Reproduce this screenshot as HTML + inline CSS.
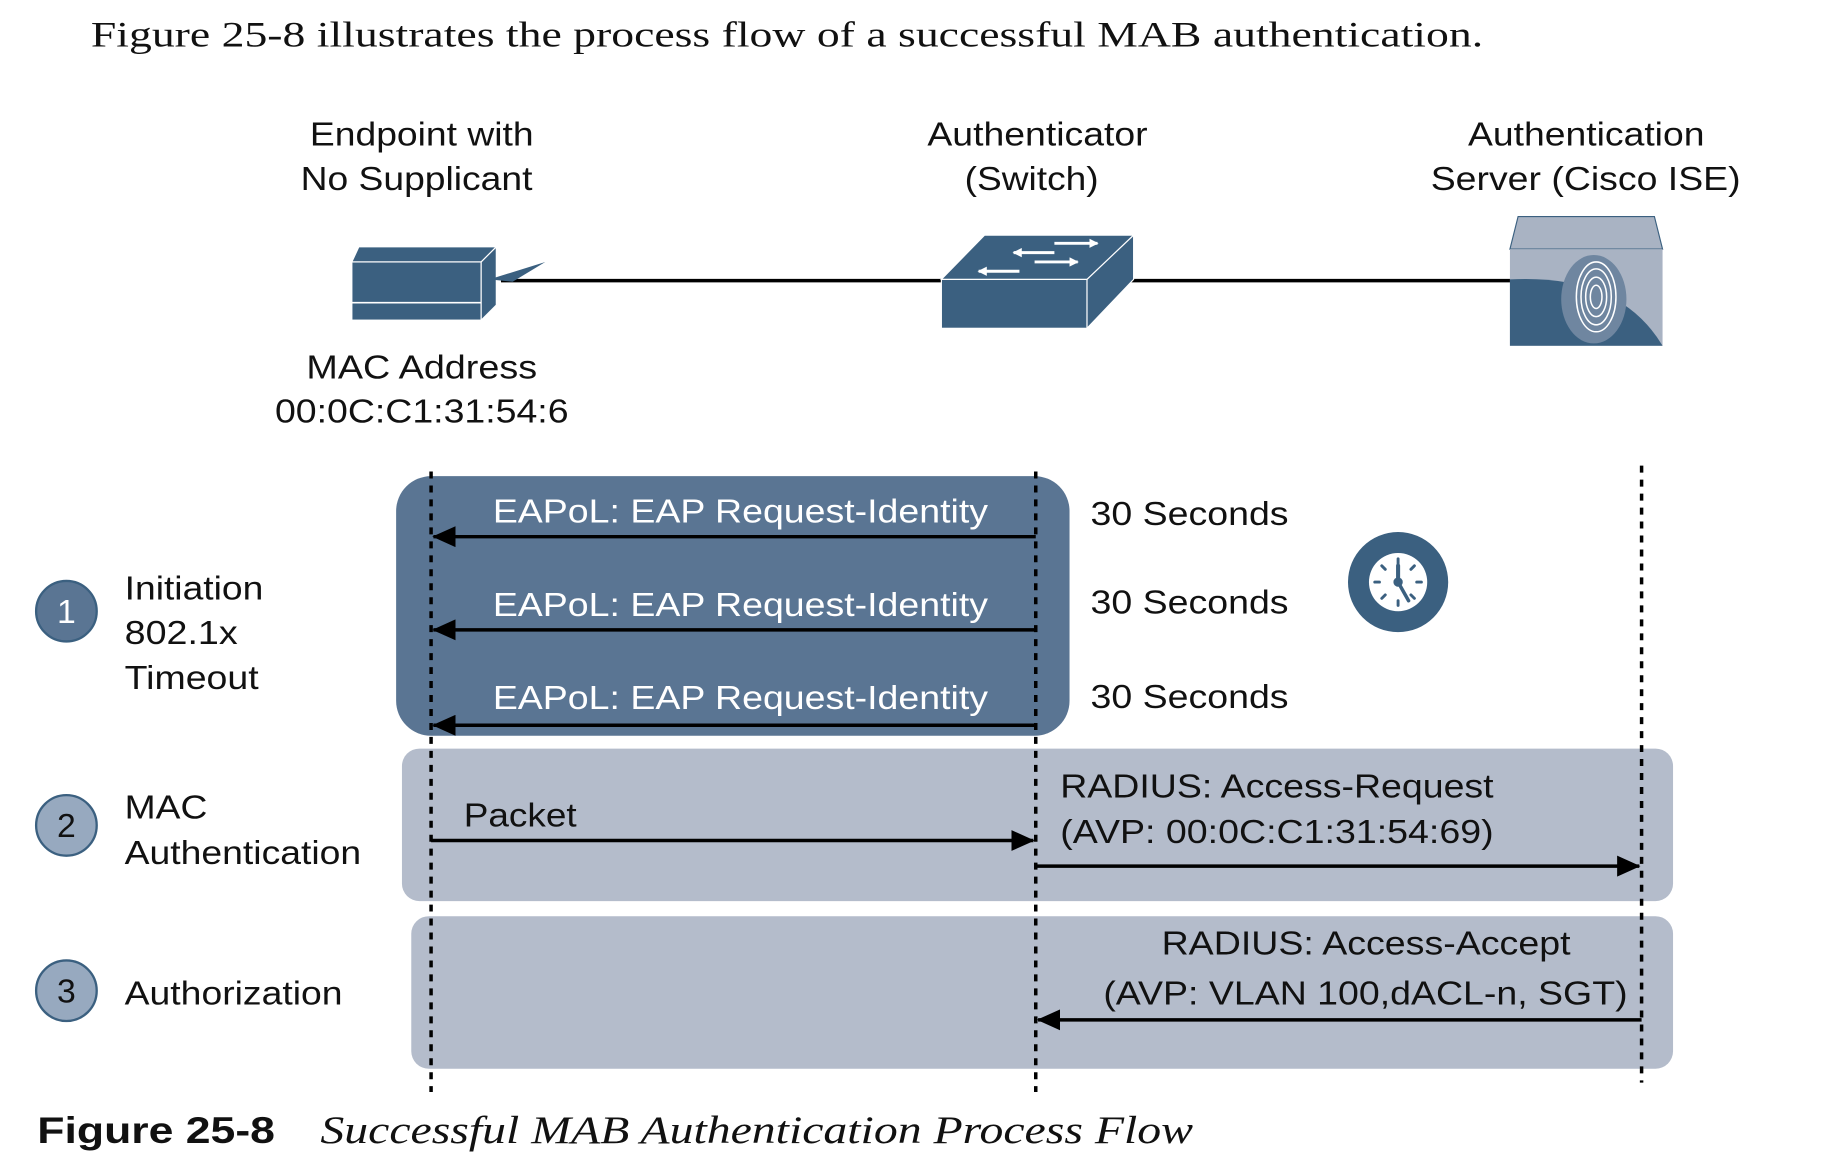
<!DOCTYPE html>
<html><head><meta charset="utf-8"><style>
html,body{margin:0;padding:0;background:#fff;}
svg{display:block;}
.s{font-family:"Liberation Sans",sans-serif;font-size:29px;fill:#111;}
.w{font-family:"Liberation Sans",sans-serif;font-size:29px;fill:#fff;}
</style></head><body>
<svg width="1828" height="1170" viewBox="0 0 1569 1005" preserveAspectRatio="none" xmlns="http://www.w3.org/2000/svg">
<defs>
<marker id="b" markerWidth="20" markerHeight="18" refX="19" refY="9" orient="auto" markerUnits="userSpaceOnUse"><path d="M0,0 L20,9 L0,18 z" fill="#000"/></marker>
<marker id="w" markerWidth="8" markerHeight="8" refX="7" refY="4" orient="auto" markerUnits="userSpaceOnUse"><path d="M0,0 L8,4 L0,8 z" fill="#fff"/></marker>
</defs>
<text x="78" y="40" textLength="1195" lengthAdjust="spacingAndGlyphs" style="font-family:'Liberation Serif',serif;font-size:31px;fill:#111">Figure 25-8 illustrates the process flow of a successful MAB authentication.</text>

<text class="s" x="266" y="125" textLength="192" lengthAdjust="spacingAndGlyphs">Endpoint with</text>
<text class="s" x="258" y="163" textLength="199" lengthAdjust="spacingAndGlyphs">No Supplicant</text>
<text class="s" x="796" y="125" textLength="189" lengthAdjust="spacingAndGlyphs">Authenticator</text>
<text class="s" x="828" y="163" textLength="115" lengthAdjust="spacingAndGlyphs">(Switch)</text>
<text class="s" x="1260" y="125" textLength="203" lengthAdjust="spacingAndGlyphs">Authentication</text>
<text class="s" x="1228" y="163" textLength="266" lengthAdjust="spacingAndGlyphs">Server (Cisco ISE)</text>

<line x1="430" y1="241" x2="1300" y2="241" stroke="#000" stroke-width="3"/>
<!-- endpoint -->
<polygon points="302,225 308,212 426,212 413,225" fill="#3b6080" stroke="#fff" stroke-width="1"/>
<rect x="302" y="225" width="111" height="50" fill="#3b6080" stroke="#fff" stroke-width="1"/>
<line x1="302" y1="260" x2="413" y2="260" stroke="#fff" stroke-width="1.5"/>
<polygon points="413,225 426,212 426,262 413,275" fill="#3b6080" stroke="#fff" stroke-width="1"/>
<polygon points="420,240 468,225 440,242" fill="#3b6080"/>
<!-- switch -->
<polygon points="808,240 845,202 973,202 933,240" fill="#3b6080" stroke="#fff" stroke-width="1"/>
<rect x="808" y="240" width="125" height="42" fill="#3b6080" stroke="#fff" stroke-width="1"/>
<polygon points="933,240 973,202 973,240 933,282" fill="#3b6080" stroke="#fff" stroke-width="1"/>
<g stroke="#fff" stroke-width="2.5">
<line x1="905" y1="209" x2="942" y2="209" marker-end="url(#w)"/><line x1="905" y1="217" x2="870" y2="217" marker-end="url(#w)"/>
<line x1="888" y1="225" x2="925" y2="225" marker-end="url(#w)"/><line x1="875" y1="233" x2="840" y2="233" marker-end="url(#w)"/>
</g>
<!-- server -->
<polygon points="1296,214 1303,186 1420,186 1427,214" fill="#a9b3c3" stroke="#3b6080" stroke-width="1"/>
<rect x="1296" y="214" width="131" height="83" fill="#a9b3c3"/>
<path d="M1296,240 Q1390,235 1427,297 L1296,297 Z" fill="#3b6080"/>
<ellipse cx="1368" cy="257" rx="28" ry="38" fill="#6f86a0"/>
<g stroke="#fff" stroke-width="1.3" fill="none">
<ellipse cx="1370" cy="255" rx="5" ry="10"/><ellipse cx="1370" cy="255" rx="9" ry="17"/><ellipse cx="1370" cy="255" rx="13" ry="24"/><ellipse cx="1370" cy="255" rx="17" ry="30"/>
</g>

<text class="s" x="263" y="325" textLength="198" lengthAdjust="spacingAndGlyphs">MAC Address</text>
<text class="s" x="236" y="363" textLength="252" lengthAdjust="spacingAndGlyphs">00:0C:C1:31:54:6</text>

<!-- boxes -->
<rect x="340" y="409" width="578" height="223" rx="30" fill="#5a7593"/>
<rect x="345" y="643" width="1091" height="131" rx="15" fill="#b4bccb"/>
<rect x="353" y="787" width="1083" height="131" rx="15" fill="#b4bccb"/>

<g stroke="#000" stroke-width="3" stroke-dasharray="6,6">
<line x1="370" y1="405" x2="370" y2="938"/>
<line x1="889" y1="405" x2="889" y2="938"/>
<line x1="1409" y1="400" x2="1409" y2="930"/>
</g>

<g stroke="#000" stroke-width="3">
<line x1="889" y1="461" x2="372" y2="461" marker-end="url(#b)"/>
<line x1="889" y1="541" x2="372" y2="541" marker-end="url(#b)"/>
<line x1="889" y1="623" x2="372" y2="623" marker-end="url(#b)"/>
<line x1="370" y1="722" x2="887" y2="722" marker-end="url(#b)"/>
<line x1="889" y1="744" x2="1407" y2="744" marker-end="url(#b)"/>
<line x1="1409" y1="876" x2="891" y2="876" marker-end="url(#b)"/>
</g>

<text class="w" x="423" y="449" textLength="425" lengthAdjust="spacingAndGlyphs">EAPoL: EAP Request-Identity</text>
<text class="w" x="423" y="529" textLength="425" lengthAdjust="spacingAndGlyphs">EAPoL: EAP Request-Identity</text>
<text class="w" x="423" y="609" textLength="425" lengthAdjust="spacingAndGlyphs">EAPoL: EAP Request-Identity</text>
<text class="s" x="936" y="451" textLength="170" lengthAdjust="spacingAndGlyphs">30 Seconds</text>
<text class="s" x="936" y="527" textLength="170" lengthAdjust="spacingAndGlyphs">30 Seconds</text>
<text class="s" x="936" y="608" textLength="170" lengthAdjust="spacingAndGlyphs">30 Seconds</text>

<circle cx="1200" cy="500" r="43" fill="#3b6080"/>
<circle cx="1200" cy="500" r="25" fill="#fff"/>
<g stroke="#3b6080" stroke-width="2.5" stroke-linecap="round">
<line x1="1200" y1="480" x2="1200" y2="484"/><line x1="1200" y1="516" x2="1200" y2="520"/>
<line x1="1180" y1="500" x2="1184" y2="500"/><line x1="1216" y1="500" x2="1220" y2="500"/>
<line x1="1186" y1="486" x2="1189" y2="489"/><line x1="1214" y1="486" x2="1211" y2="489"/>
<line x1="1186" y1="514" x2="1189" y2="511"/><line x1="1214" y1="514" x2="1211" y2="511"/>
<line x1="1200" y1="500" x2="1200" y2="486" stroke-width="3.5"/><line x1="1200" y1="500" x2="1209" y2="516" stroke-width="3"/>
</g>
<circle cx="1200" cy="500" r="4" fill="#3b6080"/>

<text class="s" x="398" y="710" textLength="97" lengthAdjust="spacingAndGlyphs">Packet</text>
<text class="s" x="910" y="685" textLength="372" lengthAdjust="spacingAndGlyphs">RADIUS: Access-Request</text>
<text class="s" x="910" y="724" textLength="372" lengthAdjust="spacingAndGlyphs">(AVP: 00:0C:C1:31:54:69)</text>
<text class="s" x="997" y="820" textLength="351" lengthAdjust="spacingAndGlyphs">RADIUS: Access-Accept</text>
<text class="s" x="947" y="863" textLength="450" lengthAdjust="spacingAndGlyphs">(AVP: VLAN 100,dACL-n, SGT)</text>

<g fill="#97a9bf" stroke="#3b6080" stroke-width="2">
<circle cx="57" cy="525" r="26" fill="#5a7593"/>
<circle cx="57" cy="709" r="26"/>
<circle cx="57" cy="851" r="26"/>
</g>
<text class="w" x="57" y="535" text-anchor="middle">1</text>
<text class="s" x="57" y="719" text-anchor="middle">2</text>
<text class="s" x="57" y="861" text-anchor="middle">3</text>
<text class="s" x="107" y="515" textLength="119" lengthAdjust="spacingAndGlyphs">Initiation</text>
<text class="s" x="107" y="553" textLength="97" lengthAdjust="spacingAndGlyphs">802.1x</text>
<text class="s" x="107" y="592" textLength="115" lengthAdjust="spacingAndGlyphs">Timeout</text>
<text class="s" x="107" y="703" textLength="71" lengthAdjust="spacingAndGlyphs">MAC</text>
<text class="s" x="107" y="742" textLength="203" lengthAdjust="spacingAndGlyphs">Authentication</text>
<text class="s" x="107" y="863" textLength="187" lengthAdjust="spacingAndGlyphs">Authorization</text>

<text x="32" y="982" textLength="204" lengthAdjust="spacingAndGlyphs" style="font-family:'Liberation Sans',sans-serif;font-weight:bold;font-size:32px;fill:#111">Figure 25-8</text>
<text x="275" y="982" textLength="749" lengthAdjust="spacingAndGlyphs" style="font-family:'Liberation Serif',serif;font-style:italic;font-size:34px;fill:#111">Successful MAB Authentication Process Flow</text>
</svg>
</body></html>
